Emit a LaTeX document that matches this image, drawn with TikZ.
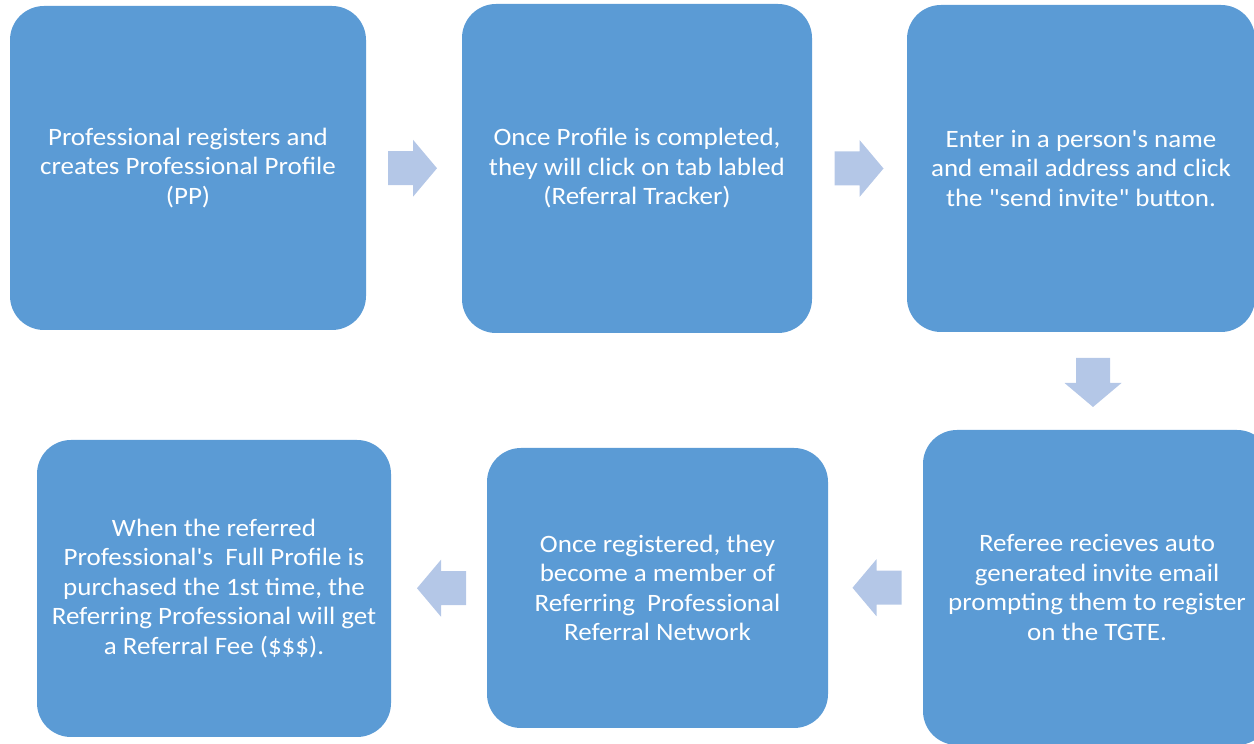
\documentclass[tikz,border=0pt]{standalone}
\usepackage{fontspec}
\setmainfont{Carlito}[FakeStretch=1.08, Ligatures=TeXOff]
\usetikzlibrary{calc}
\definecolor{boxblue}{HTML}{5B9BD5}
\definecolor{arrowblue}{HTML}{B4C7E7}
\tikzset{
  stepbox/.style={rectangle, rounded corners=34pt, fill=boxblue, text=white,
    align=center, inner sep=0pt, font=\fontsize{25}{29.5}\selectfont},
  blockarrow/.pic={\fill[arrowblue] (-24.5,-17) -- (0.5,-17) -- (0.5,-28.5) -- (24.5,0)
    -- (0.5,28.5) -- (0.5,17) -- (-24.5,17) -- cycle;}
}
\begin{document}
\begin{tikzpicture}[x=1pt,y=1pt]
\useasboundingbox (0,0) rectangle (1254,744);
% top row
\node[stepbox, minimum width=356pt, minimum height=324pt] (register) at (188,576)
  {Professional registers and\\creates Professional Profile\\(PP)};
\node[stepbox, minimum width=350pt, minimum height=329pt] (tracker) at (637,575.5)
  {Once Profile is completed,\\they will click on tab labled\\(Referral Tracker)};
\node[stepbox, minimum width=348pt, minimum height=327pt] (invite) at (1081,575.5)
  {Enter in a person's name\\and email address and click\\the "send invite" button.};
% bottom row
\node[stepbox, minimum width=348pt, minimum height=315pt] (referee) at (1097,156.5)
  {Referee recieves auto\\generated invite email\\prompting them to register\\on the TGTE.};
\node[stepbox, minimum width=341pt, minimum height=280pt] (member) at (657.5,156)
  {Once registered, they\\become a member of\\Referring\ \ Professional\\Referral Network};
\node[stepbox, minimum width=354pt, minimum height=297pt] (fee) at (214,155.5)
  {When the referred\\Professional's\ \ Full Profile is\\purchased the 1st time, the\\Referring Professional will get\\a Referral Fee (\$\$\$).};
% block arrows
\pic at ($(register.east)!.5!(tracker.west)+(-1.5,0)$) {blockarrow};
\pic at ($(tracker.east)!.5!(invite.west)+(-0.5,0)$) {blockarrow};
\pic[rotate=-90] at ($(invite.south)!.5!(referee.north)+(4,-1.5)$) {blockarrow};
\pic[rotate=180] at ($(referee.west)!.5!(member.east)+(1.5,0)$) {blockarrow};
\pic[rotate=180] at ($(member.west)!.5!(fee.east)+(2.5,0)$) {blockarrow};
\end{tikzpicture}
\end{document}
